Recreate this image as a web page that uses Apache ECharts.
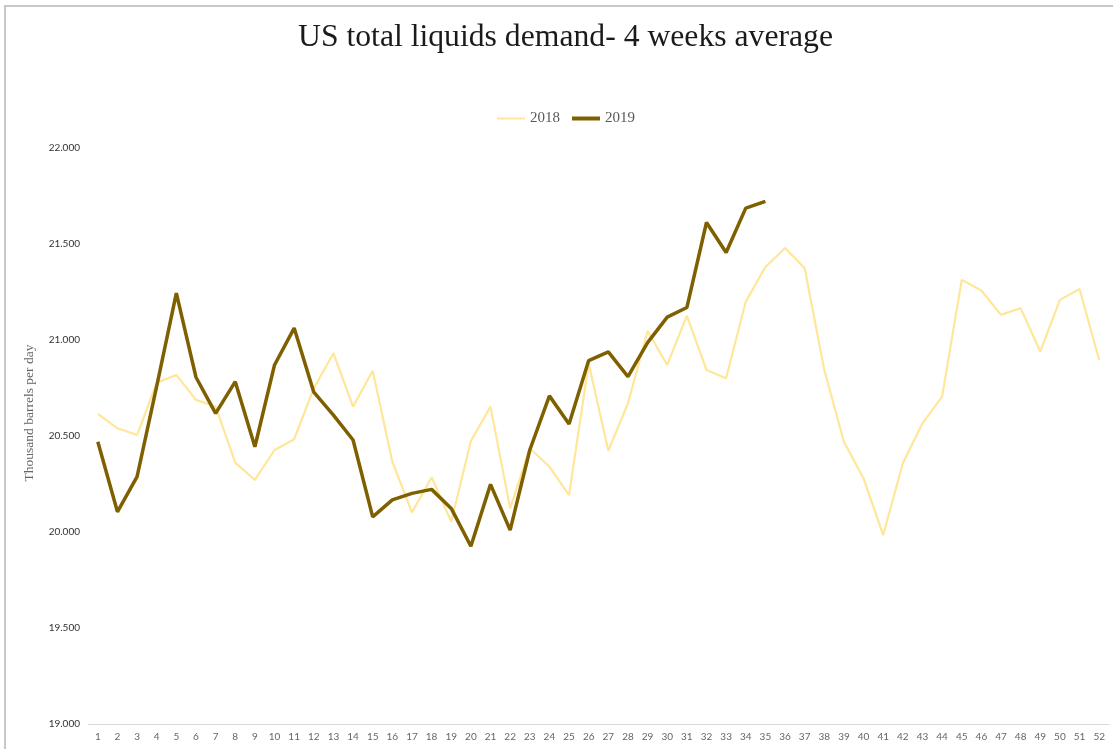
<!DOCTYPE html>
<html>
<head>
<meta charset="utf-8">
<title>US total liquids demand</title>
<script src="https://cdn.jsdelivr.net/npm/echarts@6/dist/echarts.min.js"></script>
<style>
  html, body { margin: 0; padding: 0; background: #fff; }
  #chart { width: 1113px; height: 749px; }
</style>
</head>
<body>
<div id="chart"></div>
<script>
// week numbers 1..52
var weeks = ['1','2','3','4','5','6','7','8','9','10','11','12','13','14','15','16','17','18','19','20',
  '21','22','23','24','25','26','27','28','29','30','31','32','33','34','35','36','37','38','39','40',
  '41','42','43','44','45','46','47','48','49','50','51','52'];

// thousand barrels per day
var demand2018 = [20615, 20540, 20505, 20778, 20818, 20688, 20653, 20361, 20271, 20427,
  20483, 20749, 20931, 20653, 20840, 20366, 20102, 20285, 20053, 20474,
  20653, 20123, 20436, 20340, 20192, 20879, 20423, 20670, 21047, 20870,
  21126, 20844, 20801, 21200, 21380, 21479, 21374, 20844, 20470, 20279,
  19984, 20358, 20566, 20705, 21313, 21258, 21131, 21166, 20940, 21209,
  21266, 20896];

var demand2019 = [20470, 20105, 20288, 20760, 21244, 20806, 20618, 20783, 20444, 20870,
  21062, 20728, 20609, 20479, 20079, 20167, 20201, 20222, 20123, 19926,
  20248, 20010, 20427, 20709, 20563, 20893, 20938, 20809, 20986, 21119,
  21169, 21612, 21456, 21687, 21722];

var yTicks = [19000, 19500, 20000, 20500, 21000, 21500, 22000];

var c2018 = '#FFE699';
var c2019 = '#7F6000';

function fmt(v){
  // 22000 -> 22.000
  var s = String(Math.round(v));
  return s.slice(0, s.length - 3) + '.' + s.slice(s.length - 3);
}

var legendText = {
  fontFamily: 'Liberation Serif',
  fontSize: 15,
  color: '#595959'
};

var myChart = echarts.init(document.getElementById('chart'));
myChart.setOption({
  backgroundColor: '#fff',
  animation: false,
  title: {
    text: 'US total liquids demand- 4 weeks average',
    left: 293,
    top: 17,
    textStyle: {
      fontFamily: 'Liberation Serif',
      fontWeight: 'normal',
      fontSize: 31.7,
      color: '#1a1a1a'
    }
  },
  // two legends so each swatch can have its own thickness
  legend: [
    {
      left: 497,
      top: 111,
      padding: 0,
      icon: 'rect',
      itemWidth: 28,
      itemHeight: 2,
      itemGap: 5,
      textStyle: legendText,
      data: ['2018']
    },
    {
      left: 572,
      top: 111,
      padding: 0,
      icon: 'rect',
      itemWidth: 28,
      itemHeight: 4,
      itemGap: 5,
      textStyle: legendText,
      data: ['2019']
    }
  ],
  grid: {
    left: 88,
    right: 4,
    top: 148,
    bottom: 25,
    containLabel: false
  },
  xAxis: {
    type: 'category',
    data: weeks,
    boundaryGap: true,
    axisLine: { lineStyle: { color: '#d9d9d9', width: 1 } },
    axisTick: { show: false },
    axisLabel: {
      interval: 0,
      margin: 8,
      fontFamily: 'Lato',
      fontSize: 10,
      color: '#666'
    },
    splitLine: { show: false }
  },
  yAxis: {
    type: 'value',
    min: yTicks[0],
    max: yTicks[yTicks.length - 1],
    interval: 500,
    name: 'Thousand barrels per day',
    nameLocation: 'middle',
    nameGap: 52,
    nameTextStyle: {
      fontFamily: 'Liberation Serif',
      fontSize: 13.5,
      color: '#666',
      padding: [0, 0, 0, 46]
    },
    axisLine: { show: false },
    axisTick: { show: false },
    splitLine: { show: false },
    axisLabel: {
      margin: 8,
      fontFamily: 'Lato',
      fontSize: 10,
      color: '#333',
      formatter: fmt
    }
  },
  series: [
    {
      name: '2018',
      type: 'line',
      data: demand2018,
      showSymbol: false,
      symbol: 'none',
      color: c2018,
      lineStyle: { color: c2018, width: 2.2 }
    },
    {
      name: '2019',
      type: 'line',
      data: demand2019,
      showSymbol: false,
      symbol: 'none',
      color: c2019,
      lineStyle: { color: c2019, width: 3.5 }
    }
  ],
  graphic: [
    {
      type: 'polyline',
      silent: true,
      shape: { points: [[5, 749], [5, 6], [1113, 6]] },
      style: { stroke: '#c8c8c8', lineWidth: 2, fill: null }
    }
  ]
});
</script>
</body>
</html>
